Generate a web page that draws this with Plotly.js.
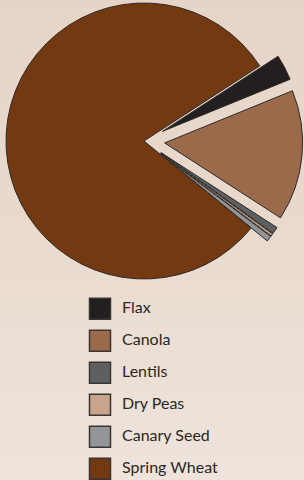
<!DOCTYPE html>
<html>
<head>
<meta charset="utf-8">
<script src="https://cdn.plot.ly/plotly-3.0.1.min.js"></script>
<style>
  html, body { margin:0; padding:0; width:304px; height:480px; overflow:hidden; }
  body { position:relative; background: linear-gradient(to bottom, #e6d4c7 0%, #e9dace 50%, #eee4dc 100%); }
  #chart { position:absolute; left:-48px; top:-60px; width:400px; height:600px; }
</style>
</head>
<body>
<div id="chart"></div>
<script>
// ---- data ----
var categories = ["Flax", "Canola", "Lentils", "Dry Peas", "Canary Seed", "Spring Wheat"];
var shares = [3.0, 15.3, 0.8, 0.3, 0.65, 79.95];
var pulls = [0.15, 0.15, 0.15, 0.15, 0.15, 0];
var colors = ["#231f20", "#9b6a4b", "#5e5f61", "#c8a48c", "#939598", "#733a12"];

// ---- layout geometry (div is offset by OX, OY relative to the page) ----
var W = 400, H = 600, OX = 48, OY = 60;
var pieCx = 144 + OX, pieCy = 141 + OY, pieR = 138;
var maxPull = Math.max.apply(null, pulls);
var half = pieR * (1 + maxPull);

var legX0 = 100 + OX, legTextX = 122 + OX;   // pixel columns of legend squares / labels
var legY0 = 308.8 + OY, legStep = 32;        // pixel row of first entry and spacing
var xPerPx = 1 / (legTextX - legX0);

var idx = categories.map(function(_, i){ return i; });

var pie = {
  type: "pie",
  labels: categories,
  values: shares,
  pull: pulls,
  sort: false,
  direction: "clockwise",
  rotation: 57,
  textinfo: "none",
  hoverinfo: "label+percent",
  showlegend: false,
  marker: { colors: colors, line: { color: "#2e2a28", width: 1 } },
  domain: {
    x: [(pieCx - half) / W, (pieCx + half) / W],
    y: [1 - (pieCy + half) / H, 1 - (pieCy - half) / H]
  }
};

var legSquares = {
  type: "scatter",
  mode: "markers",
  x: categories.map(function(){ return 0; }),
  y: idx,
  marker: { symbol: "square", size: 21, color: colors, line: { color: "#3a3533", width: 1.5 } },
  hoverinfo: "skip",
  showlegend: false
};

var legLabels = {
  type: "scatter",
  mode: "text",
  x: categories.map(function(){ return 1; }),
  y: idx,
  text: categories,
  textposition: "middle right",
  textfont: { family: "Lato, 'Open Sans', sans-serif", size: 16, color: "#2b2726" },
  hoverinfo: "skip",
  showlegend: false
};

var layout = {
  width: W, height: H,
  margin: { l: 0, r: 0, t: 0, b: 0 },
  paper_bgcolor: "rgba(0,0,0,0)",
  plot_bgcolor: "rgba(0,0,0,0)",
  showlegend: false,
  xaxis: { visible: false, domain: [0, 1], range: [-legX0 * xPerPx, (W - legX0) * xPerPx], fixedrange: true },
  yaxis: { visible: false, domain: [0, 1], range: [(H - legY0) / legStep, -legY0 / legStep], fixedrange: true }
};

Plotly.newPlot("chart", [pie, legSquares, legLabels], layout, { displayModeBar: false, staticPlot: true });
</script>
</body>
</html>
